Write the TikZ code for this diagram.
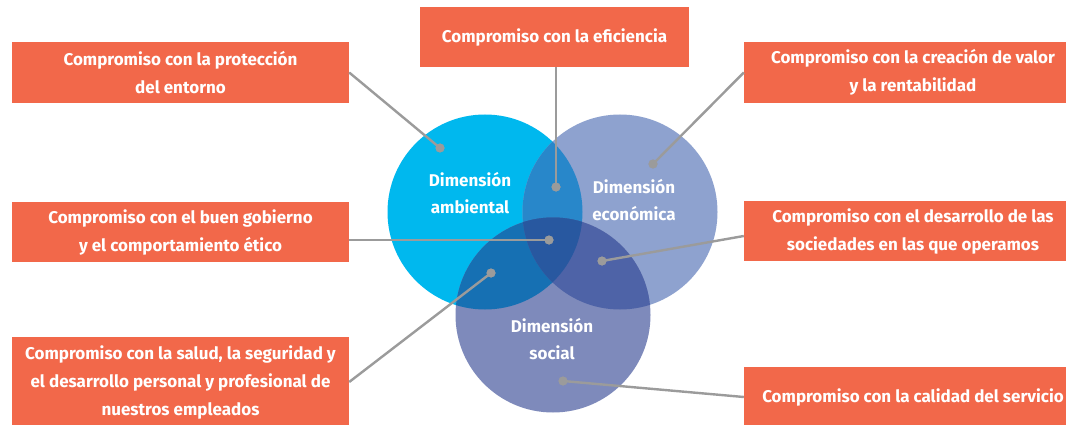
\documentclass[tikz,border=0pt]{standalone}
\usepackage{fontspec}
\setmainfont{Fira Sans}
\definecolor{boxc}{HTML}{F2684A}
\definecolor{ambc}{HTML}{00B8EE}
\definecolor{ecoc}{HTML}{8EA2CF}
\definecolor{socc}{HTML}{7E8ABB}
\definecolor{aec}{HTML}{2887CA}
\definecolor{asc}{HTML}{1670B3}
\definecolor{esc}{HTML}{4E63A7}
\definecolor{aesc}{HTML}{2858A0}
\definecolor{linec}{HTML}{9B9B9B}
\tikzset{
  box/.style={fill=boxc, text=white, align=center, inner sep=0pt,
    font=\bfseries\fontsize{17}{28}\selectfont},
  dimlabel/.style={text=white, align=center, inner sep=0pt,
    font=\bfseries\fontsize{17}{27}\selectfont},
  dot/.style={circle, fill=linec, inner sep=0pt, minimum size=9pt},
  conn/.style={draw=linec, line width=2.4pt}
}
\begin{document}
\begin{tikzpicture}[x=1pt,y=-1pt]
\clip (0,0) rectangle (1066,425);
\fill[white] (0,0) rectangle (1066,425);
% circles
\coordinate (A) at (485,212);
\coordinate (E) at (620,212);
\coordinate (S) at (553,315);
\fill[ambc] (A) circle[radius=97.5pt];
\fill[ecoc] (E) circle[radius=97.5pt];
\fill[socc] (S) circle[radius=97.5pt];
\begin{scope}
  \clip (A) circle[radius=97.5pt];
  \fill[aec] (E) circle[radius=97.5pt];
\end{scope}
\begin{scope}
  \clip (A) circle[radius=97.5pt];
  \fill[asc] (S) circle[radius=97.5pt];
\end{scope}
\begin{scope}
  \clip (E) circle[radius=97.5pt];
  \fill[esc] (S) circle[radius=97.5pt];
\end{scope}
\begin{scope}
  \clip (A) circle[radius=97.5pt];
  \clip (E) circle[radius=97.5pt];
  \fill[aesc] (S) circle[radius=97.5pt];
\end{scope}
% circle labels
\node[dimlabel] (la) at (470,193) {Dimensión\\ambiental};
\node[dimlabel] (le) at (634,200) {Dimensión\\económica};
\node[dimlabel] (ls) at (552,339) {Dimensión\\social};
% boxes
\node[box, minimum width=337pt, minimum height=61pt] (b1) at (180.5,72.5) {Compromiso con la protección\\del entorno};
\node[box, minimum width=269pt, minimum height=60pt] (b2) at (554.5,37) {Compromiso con la eficiencia};
\node[box, minimum width=338pt, minimum height=61pt] (b3) at (913,72.5) {Compromiso con la creación de valor\\y la rentabilidad};
\node[box, minimum width=337pt, minimum height=60pt] (b4) at (180.5,232) {Compromiso con el buen gobierno\\y el comportamiento ético};
\node[box, minimum width=338pt, minimum height=60pt] (b5) at (913,231) {Compromiso con el desarrollo de las\\sociedades en las que operamos};
\node[box, minimum width=337pt, minimum height=90pt] (b6) at (180.5,382) {Compromiso con la salud, la seguridad y\\el desarrollo personal y profesional de\\nuestros empleados};
\node[box, minimum width=338pt, minimum height=60pt] (b7) at (913,397) {Compromiso con la calidad del servicio};
% dots
\node[dot] (d1) at (440,148) {};
\node[dot] (d2) at (556,187) {};
\node[dot] (d3) at (653,164) {};
\node[dot] (d4) at (549,240) {};
\node[dot] (d5) at (602,261) {};
\node[dot] (d6) at (491,273) {};
\node[dot] (d7) at (563,381) {};
% connectors
\draw[conn] (b1.east) -- (d1.center);
\draw[conn] (b2.south -| d2) -- (d2.center);
\draw[conn] (b3.west) -- (d3.center);
\draw[conn] (b4.east |- d4) -- (d4.center);
\draw[conn] ([yshift=-5pt]b5.west) -- (d5.center);
\draw[conn] (b6.east) -- (d6.center);
\draw[conn] (b7.west) -- (d7.center);
% redraw dots on top
\node[dot] at (d1) {};
\node[dot] at (d2) {};
\node[dot] at (d3) {};
\node[dot] at (d4) {};
\node[dot] at (d5) {};
\node[dot] at (d6) {};
\node[dot] at (d7) {};
\end{tikzpicture}
\end{document}
